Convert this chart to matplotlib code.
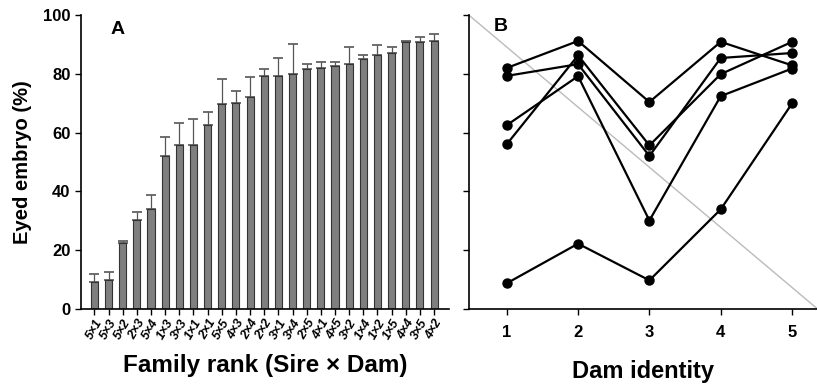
import numpy as np
import matplotlib.pyplot as plt

plt.rcParams['font.family'] = ['Liberation Sans', 'DejaVu Sans']
plt.rcParams['font.weight'] = 'bold'
plt.rcParams['axes.labelweight'] = 'bold'

# Panel A: family means and upper error bars
families = ['5×1', '5×3', '5×2', '2×3', '5×4', '1×3', '3×3', '1×1', '2×1',
            '5×5', '4×3', '2×4', '2×2', '3×1', '3×4', '2×5', '4×1', '4×5',
            '3×2', '1×4', '1×2', '1×5', '4×4', '3×5', '4×2']
eyed = [8.9, 9.7, 22.2, 30.1, 33.9, 51.9, 55.7, 55.7, 62.7, 69.8, 70.2, 72.2,
        79.2, 79.2, 79.8, 81.6, 81.9, 82.6, 83.2, 85.1, 86.3, 87.2, 90.7, 90.9,
        91.3]
err_top = [11.7, 12.5, 23.0, 33.0, 38.8, 58.5, 63.4, 64.5, 67.0, 78.4, 74.0,
           78.8, 81.5, 85.3, 90.2, 83.5, 84.2, 84.1, 89.0, 86.5, 89.7, 89.2,
           91.3, 92.7, 93.6]

# Panel B: reaction norms across dams
dams = [1, 2, 3, 4, 5]
sire_a = [82.0, 91.2, 70.4, 90.9, 82.9]
sire_b = [79.3, 83.3, 52.0, 85.4, 87.1]
sire_c = [56.0, 86.3, 55.6, 79.9, 90.9]
sire_d = [62.5, 79.2, 30.0, 72.4, 81.8]
sire_e = [8.6, 22.1, 9.6, 33.8, 69.9]

fig = plt.figure(figsize=(8.17, 3.87), dpi=100)
axA = fig.add_axes([0.0991, 0.2028, 0.4504, 0.758])
axB = fig.add_axes([0.574, 0.2028, 0.426, 0.758])

x = np.arange(len(families))
upper = np.array(err_top) - np.array(eyed)
axA.bar(x, eyed, width=0.5, color='#7f7f7f', edgecolor='#333333',
        linewidth=0.8, zorder=2)
axA.errorbar(x, eyed, yerr=[np.zeros_like(upper), upper], fmt='none',
             ecolor='#555555', elinewidth=0.9, capsize=3.5, capthick=1.2,
             zorder=1)
axA.set_xlim(-0.95, 25.05)
axA.set_ylim(0, 100)
axA.set_yticks([0, 20, 40, 60, 80, 100])
axA.set_xticks(x)
axA.set_xticklabels(families, rotation=60, ha='right', rotation_mode='anchor',
                    fontsize=9, fontstyle='italic', fontweight='bold')
axA.tick_params(axis='y', labelsize=12, direction='out', length=4, width=1)
axA.tick_params(axis='x', direction='out', length=4, width=1, pad=2)
for s in ['top', 'right']:
    axA.spines[s].set_visible(False)
for s in ['left', 'bottom']:
    axA.spines[s].set_linewidth(1.2)
axA.set_ylabel('Eyed embryo (%)', fontsize=14.5, fontweight='bold', labelpad=8)
axA.set_xlabel('Family rank (Sire × Dam)', fontsize=17.5, fontweight='bold',
               labelpad=9)
axA.text(0.08, 0.95, 'A', transform=axA.transAxes, fontsize=14,
         fontweight='bold', va='center')

for sire in [sire_a, sire_b, sire_c, sire_d, sire_e]:
    axB.plot(dams, sire, color='black', linewidth=1.6, marker='o',
             markersize=6.5, zorder=3)
axB.plot([0, 1], [1, 0], transform=axB.transAxes, color='#bbbbbb',
         linewidth=1.0, zorder=1)
axB.set_xlim(0.47, 5.35)
axB.set_ylim(0, 100)
axB.set_xticks(dams)
axB.set_yticks([0, 20, 40, 60, 80, 100])
axB.set_yticklabels([])
axB.tick_params(axis='x', labelsize=12, direction='out', length=4, width=1,
                pad=8)
axB.tick_params(axis='y', direction='out', length=4, width=1)
for s in ['top', 'right']:
    axB.spines[s].set_visible(False)
for s in ['left', 'bottom']:
    axB.spines[s].set_linewidth(1.2)
axB.set_xlabel('Dam identity', fontsize=17, fontweight='bold', labelpad=14)
axB.text(0.07, 0.96, 'B', transform=axB.transAxes, fontsize=14,
         fontweight='bold', va='center')

fig.savefig('out.png', dpi=100)
